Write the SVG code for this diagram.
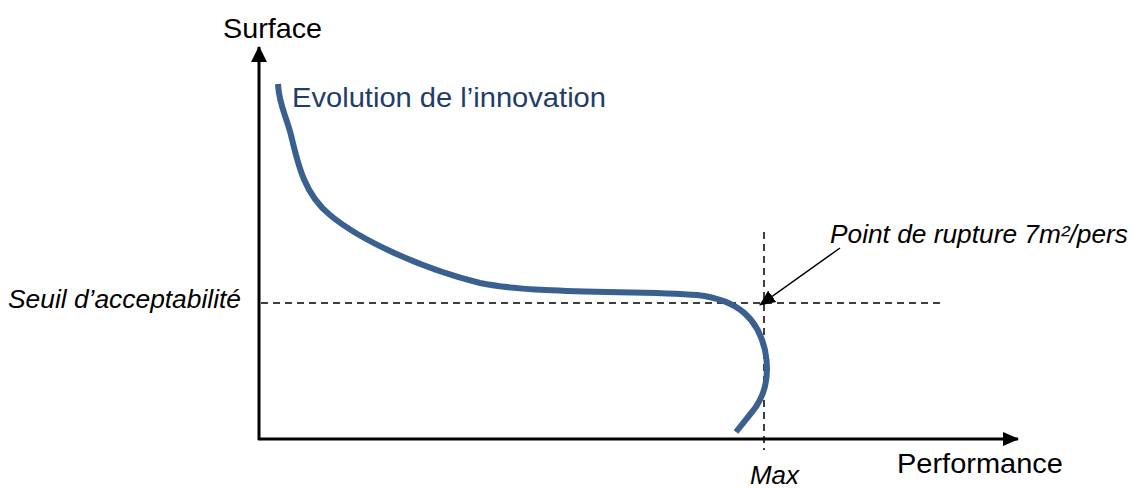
<svg xmlns="http://www.w3.org/2000/svg" width="1134" height="489" viewBox="0 0 1134 489">
<style>
.t{font-family:"Liberation Sans",Arial,sans-serif;fill:#000}
.i{font-style:italic;font-size:26px}
.u{font-size:28px}
.axis{stroke:#000;stroke-width:3;fill:none}
.dash{stroke:#000;stroke-width:1.5;stroke-dasharray:7,5;fill:none}
.curve{stroke:#3a6090;stroke-width:6;fill:none}
</style>
<defs>
<marker id="ah" markerUnits="userSpaceOnUse" markerWidth="16" markerHeight="16" viewBox="0 0 16 16" refX="15" refY="8" orient="auto">
<path d="M0,0 L16,8 L0,16 Z" fill="#000"/>
</marker>
<marker id="ah2" markerUnits="userSpaceOnUse" markerWidth="16" markerHeight="14" viewBox="0 0 16 14" refX="15" refY="7" orient="auto">
<path d="M0,0 L16,7 L0,14 Z" fill="#000"/>
</marker>
</defs>
<rect width="1134" height="489" fill="#fff"/>
<g id="connectors">
<line class="axis" x1="259" y1="440" x2="259" y2="47" marker-end="url(#ah)"/>
<line class="axis" x1="258" y1="439" x2="1018" y2="439" marker-end="url(#ah2)"/>
<line class="dash" x1="261" y1="303" x2="940" y2="303"/>
<line class="dash" x1="764" y1="232" x2="764" y2="450"/>
<line x1="840" y1="248" x2="760" y2="305" stroke="#000" stroke-width="1.5" marker-end="url(#ah2)"/>
</g>
<g id="curve">
<path class="curve" d="M278,84 C279,105 286,115 291,135 C298,165 305,195 330,215 C360,240 420,268 480,283 C540,295 640,290 697,295 C740,300 758,320 765,350 C770,375 766,395 752,412 L736,432"/>
</g>
<g id="label-surface"><text class="t u" x="223" y="38" textLength="99" lengthAdjust="spacingAndGlyphs">Surface</text></g>
<g id="label-evolution"><text class="t u" x="292" y="107" textLength="314" lengthAdjust="spacingAndGlyphs" style="fill:#1f3d68">Evolution de l’innovation</text></g>
<g id="label-seuil"><text class="t i" x="8" y="308" textLength="233" lengthAdjust="spacingAndGlyphs">Seuil d’acceptabilité</text></g>
<g id="label-rupture"><text class="t i" x="830" y="243" textLength="298" lengthAdjust="spacingAndGlyphs">Point de rupture 7m²/pers</text></g>
<g id="label-max"><text class="t i" x="750" y="484" font-size="25" textLength="49" lengthAdjust="spacingAndGlyphs">Max</text></g>
<g id="label-performance"><text class="t u" x="897" y="473" textLength="166" lengthAdjust="spacingAndGlyphs">Performance</text></g>
</svg>
